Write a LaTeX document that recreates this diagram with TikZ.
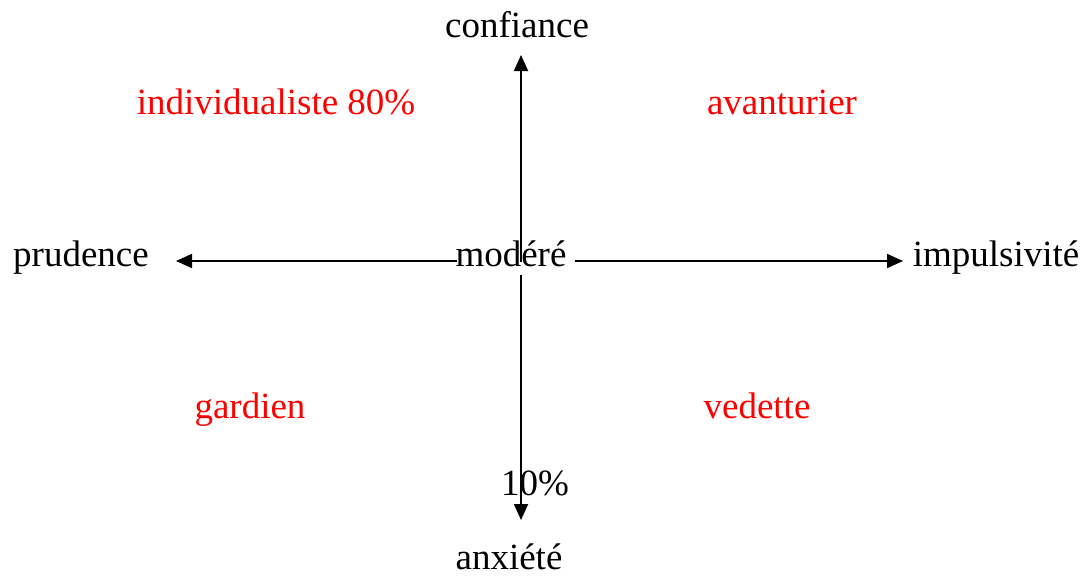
\documentclass[tikz,border=0pt]{standalone}
\usepackage{fontspec}
\setmainfont{Liberation Serif}
\usetikzlibrary{arrows.meta}

\begin{document}
\begin{tikzpicture}[x=0.5pt, y=-0.5pt,
  lbl/.style={anchor=base, inner sep=0pt, font=\fontsize{18.5}{22}\selectfont},
  quad/.style={lbl, text=red},
  axe/.style={-{Triangle[length=8pt, width=7pt]}, line width=0.9pt}
]
  \useasboundingbox (0,0) rectangle (1087,578);

  % axes labels
  \node[lbl] (confiance) at (517,38) {confiance};
  \node[lbl] (anxiete) at (509,569) {anxiété};
  \node[lbl] (prudence) at (81,266) {prudence};
  \node[lbl] (impuls) at (996,266) {impulsivité};
  \node[lbl] (modere) at (511,266) {modéré};
  \node[lbl] (dix) at (535,495) {10\%};

  % quadrants
  \node[quad] (indiv) at (276,114) {individualiste 80\%};
  \node[quad] (avant) at (782,114) {avanturier};
  \node[quad] (gardien) at (250,418) {gardien};
  \node[quad] (vedette) at (757,418) {vedette};

  % arrow ends
  \coordinate (hautD) at (521,262);
  \coordinate (hautF) at (521,55);
  \coordinate (basD) at (521,275);
  \coordinate (basF) at (521,520);
  \coordinate (gaucheD) at (457,261);
  \coordinate (gaucheF) at (176,261);
  \coordinate (droiteD) at (575,261);
  \coordinate (droiteF) at (903,261);

  \draw[axe] (hautD) -- (hautF);
  \draw[axe] (basD) -- (basF);
  \draw[axe] (gaucheD) -- (gaucheF);
  \draw[axe] (droiteD) -- (droiteF);
\end{tikzpicture}
\end{document}
